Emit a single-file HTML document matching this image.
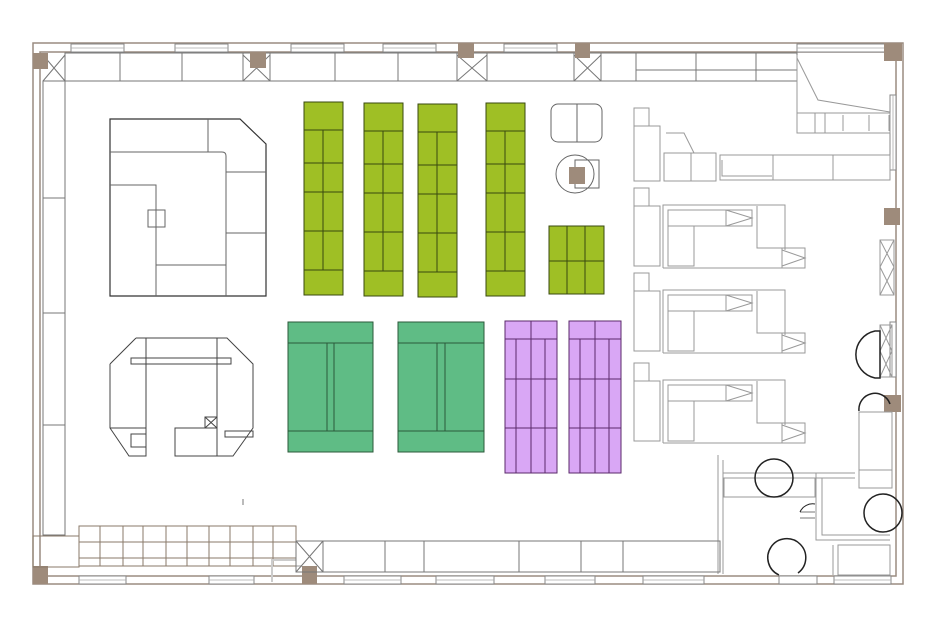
<!DOCTYPE html>
<html><head><meta charset="utf-8"><style>html,body{margin:0;padding:0;background:#fff}svg{display:block}</style></head>
<body>
<svg width="938" height="628" viewBox="0 0 938 628" xmlns="http://www.w3.org/2000/svg" fill="none" stroke-linejoin="miter">
<rect width="938" height="628" fill="#fff"/>
<!-- outer walls -->
<g stroke="#9a8c80" stroke-width="1.5">
<rect x="33" y="43" width="870" height="541"/>
<rect x="40" y="52" width="856" height="524"/>
</g>
<!-- windows top -->
<g fill="#fff" stroke="#888" stroke-width="1">
<rect x="71" y="44" width="53" height="8"/><rect x="175" y="44" width="53" height="8"/><rect x="291" y="44" width="53" height="8"/><rect x="383" y="44" width="53" height="8"/><rect x="504" y="44" width="53" height="8"/><rect x="797" y="44" width="90" height="8"/>
<rect x="79" y="576" width="47" height="8"/><rect x="209" y="576" width="45" height="8"/><rect x="344" y="576" width="57" height="8"/><rect x="436" y="576" width="58" height="8"/><rect x="545" y="576" width="50" height="8"/><rect x="643" y="576" width="61" height="8"/><rect x="779" y="576" width="38" height="8"/><rect x="834" y="576" width="57" height="8"/>
<rect x="890" y="95" width="6" height="75"/><rect x="890" y="322" width="6" height="55"/>
</g>
<g stroke="#aaa" stroke-width="0.8">
<line x1="71" y1="48" x2="124" y2="48"/><line x1="175" y1="48" x2="228" y2="48"/><line x1="291" y1="48" x2="344" y2="48"/><line x1="383" y1="48" x2="436" y2="48"/><line x1="504" y1="48" x2="557" y2="48"/><line x1="797" y1="48" x2="887" y2="48"/>
<line x1="79" y1="580" x2="126" y2="580"/><line x1="209" y1="580" x2="254" y2="580"/><line x1="344" y1="580" x2="401" y2="580"/><line x1="436" y1="580" x2="494" y2="580"/><line x1="545" y1="580" x2="595" y2="580"/><line x1="643" y1="580" x2="704" y2="580"/><line x1="834" y1="580" x2="891" y2="580"/>
<line x1="893" y1="95" x2="893" y2="170"/>
</g>
<!-- top cabinets -->
<g stroke="#777" stroke-width="1">
<rect x="65" y="53" width="732" height="28"/>
<line x1="120" y1="53" x2="120" y2="81"/><line x1="182" y1="53" x2="182" y2="81"/><line x1="243" y1="53" x2="243" y2="81"/><line x1="270" y1="53" x2="270" y2="81"/><line x1="335" y1="53" x2="335" y2="81"/><line x1="398" y1="53" x2="398" y2="81"/><line x1="457" y1="53" x2="457" y2="81"/><line x1="487" y1="53" x2="487" y2="81"/><line x1="574" y1="53" x2="574" y2="81"/><line x1="601" y1="53" x2="601" y2="81"/><line x1="636" y1="53" x2="636" y2="81"/><line x1="696" y1="53" x2="696" y2="81"/><line x1="756" y1="53" x2="756" y2="81"/><line x1="636" y1="70" x2="797" y2="70"/>
<path d="M243 55L270 81M270 55L243 81M457 55L487 81M487 55L457 81M574 55L601 81M601 55L574 81M43 55L65 81M65 55L43 81"/>
<rect x="43" y="81" width="22" height="454"/>
<line x1="43" y1="198" x2="65" y2="198"/><line x1="43" y1="313" x2="65" y2="313"/><line x1="43" y1="425" x2="65" y2="425"/>
</g>
<!-- columns -->
<g fill="#9e8b7b">
<rect x="33" y="53" width="15" height="16"/><rect x="250" y="52" width="16" height="16"/><rect x="458" y="43" width="16" height="15"/><rect x="575" y="43" width="15" height="15"/><rect x="884" y="43" width="18" height="18"/><rect x="884" y="208" width="16" height="17"/><rect x="884" y="395" width="17" height="17"/><rect x="33" y="566" width="15" height="18"/><rect x="302" y="566" width="15" height="18"/>
</g>
<!-- top-left block -->
<g stroke="#333" stroke-width="1.2">
<path d="M110 119H240L266 144V296H110Z"/>
</g>
<g stroke="#666" stroke-width="1">
<path d="M208 119V152M110 152H222Q226 152 226 156V296M226 172H266M226 233H266M110 185H156V296M156 265H226"/>
<rect x="148" y="210" width="17" height="17"/>
</g>
<!-- octagon block -->
<g stroke="#444" stroke-width="1">
<path d="M136 338H227L253 364V428L233 456H175V428H217M110 364L136 338M110 364V428L129 456H146V338M217 338V456M110 428H146"/>
<rect x="131" y="358" width="100" height="6"/>
<rect x="131" y="434" width="15" height="13"/>
<rect x="205" y="417" width="12" height="11"/><path d="M205 417L217 428M217 417L205 428"/>
<rect x="225" y="431" width="28" height="6"/>
</g>
<!-- green bars -->
<g stroke="#3a4a10" stroke-width="1" fill="#9fbf25">
<g id="gb"><rect x="304" y="102" width="39" height="193"/><path fill="none" d="M304 130H343M304 163H343M304 192H343M304 231H343M304 270H343M323 130V270"/></g>
<use href="#gb" x="60" y="1"/><use href="#gb" x="114" y="2"/><use href="#gb" x="182" y="1"/>
<rect x="549" y="226" width="55" height="68"/><path fill="none" d="M567 226V294M585 226V294M549 261H604"/>
</g>
<!-- misc top objects -->
<g stroke="#666" stroke-width="1">
<rect x="551" y="104" width="51" height="38" rx="7"/><line x1="577" y1="104" x2="577" y2="142"/>
<rect x="575" y="160" width="24" height="28"/>
<circle cx="575" cy="174" r="19"/>
</g>
<rect x="569" y="167" width="16" height="17" fill="#9e8b7b"/>
<!-- teal -->
<g stroke="#2b5a3a" stroke-width="1" fill="#5fbc85">
<rect x="288" y="322" width="85" height="130"/><path fill="none" d="M288 343H373M288 431H373M327 343V431M334 343V431"/>
<rect x="398" y="322" width="86" height="130"/><path fill="none" d="M398 343H484M398 431H484M437 343V431M445 343V431"/>
</g>
<!-- purple -->
<g stroke="#5a2a6a" stroke-width="1" fill="#d9a7f5">
<rect x="505" y="321" width="52" height="152"/><path fill="none" d="M505 339H557M531 321V473M516 339V473M545 339V473M505 379H557M505 428H557"/>
<rect x="569" y="321" width="52" height="152"/><path fill="none" d="M569 339H621M595 321V473M580 339V473M609 339V473M569 379H621M569 428H621"/>
</g>
<!-- right desks -->
<g stroke="#999" stroke-width="1">
<rect x="634" y="108" width="15" height="18"/><rect x="634" y="126" width="26" height="55"/>
<rect x="664" y="153" width="52" height="28"/><line x1="691" y1="153" x2="691" y2="181"/>
<path d="M666 133H684L694 153"/>
<rect x="720" y="155" width="170" height="25"/><line x1="773" y1="155" x2="773" y2="180"/><line x1="833" y1="155" x2="833" y2="180"/><path d="M722 160V176H772"/>
<g id="desk">
<rect x="634" y="188" width="15" height="18"/><rect x="634" y="206" width="26" height="60"/>
<path d="M663 268V205H785V250M663 268H805V248H757V206"/>
<rect x="668" y="210" width="84" height="16"/><path d="M726 210V226M726 210L752 218L726 226"/>
<rect x="668" y="226" width="26" height="40"/>
<path d="M782 248V268M782 250L805 258L782 266"/>
</g>
<use href="#desk" y="85"/><use href="#desk" y="175"/>
<!-- top right room -->
<path d="M797 55V113H890M797 58L818 100L890 112"/>
<rect x="797" y="113" width="93" height="20"/><line x1="815" y1="113" x2="815" y2="133"/><line x1="825" y1="113" x2="825" y2="133"/>
<path d="M843 115V131M869 115V131M889 115V131"/>
<!-- bottom right rooms -->
<path d="M718 455V574M723 460V574M723 473H855M723 478H855M724 478V497H815V478M816 473V540H890M822 478V535H890M833 545V575M838 545V575H890V545Z"/>
<path d="M800 512H815M800 518H815" stroke="#777"/>
<rect x="859" y="412" width="33" height="76"/><line x1="859" y1="470" x2="892" y2="470"/>
<rect x="880" y="240" width="14" height="55"/><path d="M880 240L894 267M894 240L880 267M880 267L894 295M894 267L880 295"/>
<rect x="880" y="325" width="12" height="52"/><path d="M880 325L892 351M892 325L880 351M880 351L892 377M892 351L880 377"/>
</g>
<g stroke="#222" stroke-width="1.5">
<circle cx="774" cy="478" r="19"/><circle cx="883" cy="513" r="19"/>
<path d="M779 575A19 19 0 1 1 798 573"/>
<path d="M875 331A24 24 0 0 0 875 378H880V331Z"/>
<path d="M859 411A16 16 0 0 1 890 404"/>
<path d="M815 504A14 14 0 0 0 800 512" stroke-width="1"/>
</g>
<!-- bottom storage -->
<g stroke="#8a7a6a" stroke-width="1">
<rect x="79" y="526" width="217" height="40"/>
<path d="M100 526V566M123 526V566M143 526V566M166 526V566M187 526V566M209 526V566M230 526V566M253 526V566M273 526V566M79 542H296M79 558H296"/>
<rect x="33" y="536" width="46" height="31"/>
</g>
<g stroke="#ccc" stroke-width="2"><path d="M272 582V560H296M296 566H302"/></g>
<g stroke="#777" stroke-width="1">
<rect x="296" y="541" width="27" height="31"/><path d="M296 541L323 572M323 541L296 572"/>
<rect x="323" y="541" width="397" height="31"/>
<path d="M385 541V572M424 541V572M519 541V572M581 541V572M623 541V572"/>
<line x1="243" y1="499" x2="243" y2="505"/>
</g>
</svg>
</body></html>
